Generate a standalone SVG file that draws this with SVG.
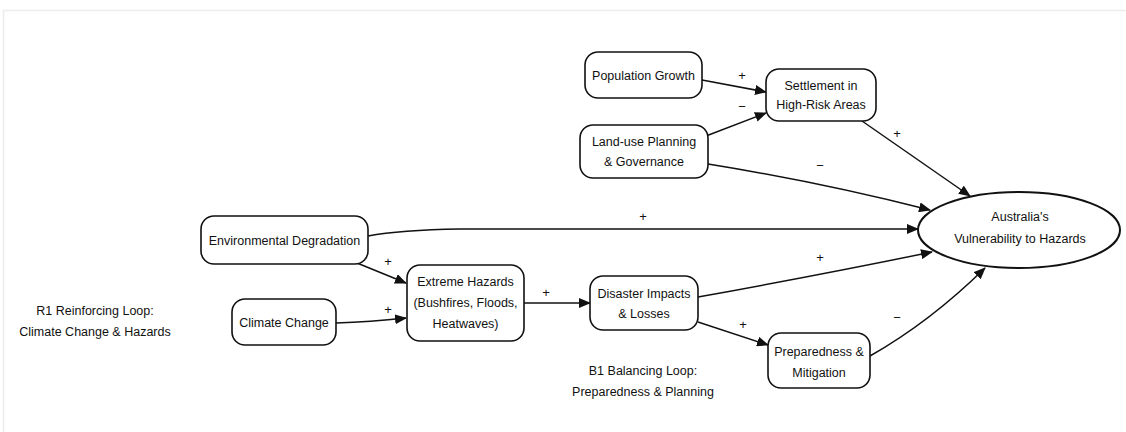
<svg xmlns="http://www.w3.org/2000/svg" width="1126" height="432" viewBox="0 0 1126 432">
<defs>
<marker id="arr" markerWidth="12" markerHeight="10" refX="11" refY="5" orient="auto" markerUnits="userSpaceOnUse">
<path d="M0,0 L12,5 L0,10 Z" fill="#111"/>
</marker>
<style>
.node rect{fill:#fff;stroke:#111;stroke-width:1.6}
.node ellipse{fill:#fff;stroke:#111;stroke-width:2}
text{font-family:"Liberation Sans",Arial,sans-serif;font-size:12.5px;fill:#111;text-anchor:middle}
.edge{fill:none;stroke:#111;stroke-width:1.5;marker-end:url(#arr)}
.sign{font-size:13px}
</style>
</defs>
<rect width="1126" height="432" fill="#fff"/>
<rect x="3.5" y="10.5" width="1130" height="430" fill="none" stroke="#ececec" stroke-width="1.5"/>

<g id="connectors">
<path class="edge" d="M702,80 L766,92"/>
<path class="edge" d="M706,136 L766,113"/>
<path class="edge" d="M862,121 L970,196"/>
<path class="edge" d="M708,164 Q820,182 930,210"/>
<path class="edge" d="M368,236 Q400,230 460,229 L918,229"/>
<path class="edge" d="M357,263 L406,283"/>
<path class="edge" d="M336,323 Q370,322 406,318"/>
<path class="edge" d="M524,303 L590,303"/>
<path class="edge" d="M698,297 Q820,275 932,252"/>
<path class="edge" d="M698,322 L768,345"/>
<path class="edge" d="M870,356 Q930,322 985,268"/>
<text class="sign" x="742" y="80">+</text>
<text class="sign" x="742" y="111">−</text>
<text class="sign" x="897" y="138">+</text>
<text class="sign" x="820" y="170">−</text>
<text class="sign" x="643" y="221">+</text>
<text class="sign" x="388" y="266">+</text>
<text class="sign" x="388" y="314">+</text>
<text class="sign" x="546" y="297">+</text>
<text class="sign" x="820" y="262">+</text>
<text class="sign" x="743" y="329">+</text>
<text class="sign" x="897" y="322">−</text>
</g>

<g id="population-growth" class="node">
<rect x="585" y="52" width="117" height="46" rx="13"/>
<text x="643.5" y="80">Population Growth</text>
</g>
<g id="settlement" class="node">
<rect x="766" y="69" width="110" height="52" rx="13"/>
<text x="821" y="90">Settlement in</text>
<text x="821" y="109">High-Risk Areas</text>
</g>
<g id="land-use" class="node">
<rect x="580" y="125" width="128" height="53" rx="13"/>
<text x="644" y="146">Land-use Planning</text>
<text x="644" y="166">&amp; Governance</text>
</g>
<g id="environmental-degradation" class="node">
<rect x="201" y="216" width="167" height="48" rx="13"/>
<text x="284.5" y="245">Environmental Degradation</text>
</g>
<g id="extreme-hazards" class="node">
<rect x="407" y="265" width="117" height="76" rx="13"/>
<text x="465.5" y="286">Extreme Hazards</text>
<text x="465.5" y="307">(Bushfires, Floods,</text>
<text x="465.5" y="328">Heatwaves)</text>
</g>
<g id="climate-change" class="node">
<rect x="232" y="299" width="104" height="46" rx="13"/>
<text x="284" y="327">Climate Change</text>
</g>
<g id="disaster-impacts" class="node">
<rect x="590" y="276" width="108" height="54" rx="13"/>
<text x="644" y="298">Disaster Impacts</text>
<text x="644" y="318">&amp; Losses</text>
</g>
<g id="preparedness" class="node">
<rect x="768" y="333" width="102" height="55" rx="13"/>
<text x="819" y="356">Preparedness &amp;</text>
<text x="819" y="377">Mitigation</text>
</g>
<g id="vulnerability" class="node">
<ellipse cx="1019" cy="230" rx="101" ry="38"/>
<text x="1020" y="221">Australia's</text>
<text x="1020" y="243">Vulnerability to Hazards</text>
</g>

<g id="loop-labels">
<text x="95" y="315">R1 Reinforcing Loop:</text>
<text x="95" y="336">Climate Change &amp; Hazards</text>
<text x="643" y="375">B1 Balancing Loop:</text>
<text x="643" y="396">Preparedness &amp; Planning</text>
</g>
</svg>
